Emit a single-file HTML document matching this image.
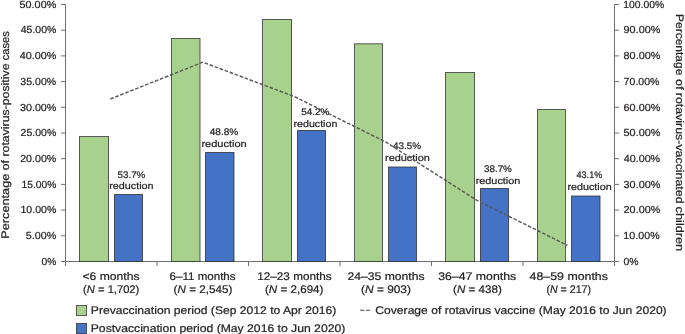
<!DOCTYPE html>
<html><head><meta charset="utf-8"><style>
html,body{margin:0;padding:0;background:#fff;}
body{width:685px;height:334px;overflow:hidden;font-family:"Liberation Sans", sans-serif;}
svg{display:block;will-change:transform;} text{text-rendering:geometricPrecision;stroke:#231f20;stroke-width:0.22px;}
</style></head><body>
<svg width="685" height="334" viewBox="0 0 685 334">
<rect width="685" height="334" fill="#fff"/>
<g stroke="#6e6e6e" stroke-width="1" fill="none">
<line x1="65.5" y1="4.5" x2="65.5" y2="266"/>
<line x1="614.5" y1="4.5" x2="614.5" y2="266"/>
<line x1="61" y1="261.5" x2="619" y2="261.5"/>
<line x1="61" y1="4.50" x2="65.5" y2="4.50"/>
<line x1="614.5" y1="4.50" x2="619" y2="4.50"/>
<line x1="61" y1="30.20" x2="65.5" y2="30.20"/>
<line x1="614.5" y1="30.20" x2="619" y2="30.20"/>
<line x1="61" y1="55.90" x2="65.5" y2="55.90"/>
<line x1="614.5" y1="55.90" x2="619" y2="55.90"/>
<line x1="61" y1="81.60" x2="65.5" y2="81.60"/>
<line x1="614.5" y1="81.60" x2="619" y2="81.60"/>
<line x1="61" y1="107.30" x2="65.5" y2="107.30"/>
<line x1="614.5" y1="107.30" x2="619" y2="107.30"/>
<line x1="61" y1="133.00" x2="65.5" y2="133.00"/>
<line x1="614.5" y1="133.00" x2="619" y2="133.00"/>
<line x1="61" y1="158.70" x2="65.5" y2="158.70"/>
<line x1="614.5" y1="158.70" x2="619" y2="158.70"/>
<line x1="61" y1="184.40" x2="65.5" y2="184.40"/>
<line x1="614.5" y1="184.40" x2="619" y2="184.40"/>
<line x1="61" y1="210.10" x2="65.5" y2="210.10"/>
<line x1="614.5" y1="210.10" x2="619" y2="210.10"/>
<line x1="61" y1="235.80" x2="65.5" y2="235.80"/>
<line x1="614.5" y1="235.80" x2="619" y2="235.80"/>
<line x1="61" y1="261.50" x2="65.5" y2="261.50"/>
<line x1="614.5" y1="261.50" x2="619" y2="261.50"/>
<line x1="157.0" y1="261.5" x2="157.0" y2="266"/>
<line x1="248.5" y1="261.5" x2="248.5" y2="266"/>
<line x1="340.0" y1="261.5" x2="340.0" y2="266"/>
<line x1="431.5" y1="261.5" x2="431.5" y2="266"/>
<line x1="523.0" y1="261.5" x2="523.0" y2="266"/>
</g>
<g stroke="#2a2a2a" stroke-opacity="0.75" stroke-width="1">
<rect x="79.5" y="136.5" width="29" height="125.0" fill="#a9d18e"/>
<rect x="114.5" y="194.5" width="28" height="67.0" fill="#4472c4"/>
<rect x="171.5" y="38.5" width="28.5" height="223.0" fill="#a9d18e"/>
<rect x="205.5" y="152.5" width="28.5" height="109.0" fill="#4472c4"/>
<rect x="262.5" y="19.5" width="29" height="242.0" fill="#a9d18e"/>
<rect x="297.5" y="130.5" width="28" height="131.0" fill="#4472c4"/>
<rect x="354.5" y="43.8" width="28" height="217.7" fill="#a9d18e"/>
<rect x="388.5" y="167.0" width="28" height="94.5" fill="#4472c4"/>
<rect x="445.5" y="72.5" width="29" height="189.0" fill="#a9d18e"/>
<rect x="480.5" y="188.5" width="28" height="73.0" fill="#4472c4"/>
<rect x="537.5" y="109.5" width="28" height="152.0" fill="#a9d18e"/>
<rect x="571.5" y="196.0" width="28.5" height="65.5" fill="#4472c4"/>
</g>
<g fill="#231f20" font-family='"Liberation Sans", sans-serif'>
<text id="red0p" x="131.40" y="177.70" font-size="9.5" text-anchor="middle" textLength="27.92" lengthAdjust="spacingAndGlyphs">53.7%</text>
<text id="red0r" x="131.38" y="189.40" font-size="9.5" text-anchor="middle" textLength="44.28" lengthAdjust="spacingAndGlyphs">reduction</text>
<text id="red1p" x="223.98" y="135.10" font-size="9.5" text-anchor="middle" textLength="28.56" lengthAdjust="spacingAndGlyphs">48.8%</text>
<text id="red1r" x="224.05" y="147.00" font-size="9.5" text-anchor="middle" textLength="45.24" lengthAdjust="spacingAndGlyphs">reduction</text>
<text id="red2p" x="315.35" y="115.00" font-size="9.5" text-anchor="middle" textLength="28.22" lengthAdjust="spacingAndGlyphs">54.2%</text>
<text id="red2r" x="315.43" y="126.60" font-size="9.5" text-anchor="middle" textLength="43.88" lengthAdjust="spacingAndGlyphs">reduction</text>
<text id="red3p" x="407.02" y="149.30" font-size="9.5" text-anchor="middle" textLength="28.06" lengthAdjust="spacingAndGlyphs">43.5%</text>
<text id="red3r" x="407.45" y="160.60" font-size="9.5" text-anchor="middle" textLength="44.83" lengthAdjust="spacingAndGlyphs">reduction</text>
<text id="red4p" x="497.90" y="171.90" font-size="9.5" text-anchor="middle" textLength="27.92" lengthAdjust="spacingAndGlyphs">38.7%</text>
<text id="red4r" x="498.00" y="183.60" font-size="9.5" text-anchor="middle" textLength="44.64" lengthAdjust="spacingAndGlyphs">reduction</text>
<text id="red5p" x="589.38" y="178.20" font-size="9.5" text-anchor="middle" textLength="25.66" lengthAdjust="spacingAndGlyphs">43.1%</text>
<text id="red5r" x="589.60" y="189.80" font-size="9.5" text-anchor="middle" textLength="44.33" lengthAdjust="spacingAndGlyphs">reduction</text>
</g>
<polyline points="110.4,99.0 202.75,62.2 294.25,96.5 385.75,142 477.25,200.6 567.5,245.4" fill="none" stroke="#595959" stroke-width="1.45" stroke-dasharray="3.5 1.84"/>
<g fill="#231f20" font-family='"Liberation Sans", sans-serif' font-size="10.2">
<text id="yl0" x="56.30" y="7.70" font-size="10.2" text-anchor="end" textLength="36.73" lengthAdjust="spacingAndGlyphs">50.00%</text>
<text id="yl1" x="56.35" y="33.40" font-size="10.2" text-anchor="end" textLength="35.60" lengthAdjust="spacingAndGlyphs">45.00%</text>
<text id="yl2" x="56.35" y="59.10" font-size="10.2" text-anchor="end" textLength="36.62" lengthAdjust="spacingAndGlyphs">40.00%</text>
<text id="yl3" x="56.23" y="84.80" font-size="10.2" text-anchor="end" textLength="35.86" lengthAdjust="spacingAndGlyphs">35.00%</text>
<text id="yl4" x="56.43" y="110.50" font-size="10.2" text-anchor="end" textLength="36.47" lengthAdjust="spacingAndGlyphs">30.00%</text>
<text id="yl5" x="56.30" y="136.20" font-size="10.2" text-anchor="end" textLength="35.70" lengthAdjust="spacingAndGlyphs">25.00%</text>
<text id="yl6" x="56.32" y="161.90" font-size="10.2" text-anchor="end" textLength="36.16" lengthAdjust="spacingAndGlyphs">20.00%</text>
<text id="yl7" x="56.27" y="187.60" font-size="10.2" text-anchor="end" textLength="34.73" lengthAdjust="spacingAndGlyphs">15.00%</text>
<text id="yl8" x="56.43" y="213.30" font-size="10.2" text-anchor="end" textLength="35.96" lengthAdjust="spacingAndGlyphs">10.00%</text>
<text id="yl9" x="56.23" y="239.00" font-size="10.2" text-anchor="end" textLength="30.39" lengthAdjust="spacingAndGlyphs">5.00%</text>
<text id="yl10" x="56.40" y="264.70" font-size="10.2" text-anchor="end" textLength="14.83" lengthAdjust="spacingAndGlyphs">0%</text>
<text id="yr0" x="623.33" y="7.70" font-size="10.2" text-anchor="start" textLength="40.88" lengthAdjust="spacingAndGlyphs">100.00%</text>
<text id="yr1" x="623.58" y="33.40" font-size="10.2" text-anchor="start" textLength="36.76" lengthAdjust="spacingAndGlyphs">90.00%</text>
<text id="yr2" x="623.58" y="59.10" font-size="10.2" text-anchor="start" textLength="36.76" lengthAdjust="spacingAndGlyphs">80.00%</text>
<text id="yr3" x="623.63" y="84.80" font-size="10.2" text-anchor="start" textLength="35.85" lengthAdjust="spacingAndGlyphs">70.00%</text>
<text id="yr4" x="623.58" y="110.50" font-size="10.2" text-anchor="start" textLength="36.76" lengthAdjust="spacingAndGlyphs">60.00%</text>
<text id="yr5" x="623.58" y="136.20" font-size="10.2" text-anchor="start" textLength="36.76" lengthAdjust="spacingAndGlyphs">50.00%</text>
<text id="yr6" x="623.70" y="161.90" font-size="10.2" text-anchor="start" textLength="36.51" lengthAdjust="spacingAndGlyphs">40.00%</text>
<text id="yr7" x="623.58" y="187.60" font-size="10.2" text-anchor="start" textLength="36.76" lengthAdjust="spacingAndGlyphs">30.00%</text>
<text id="yr8" x="623.58" y="213.30" font-size="10.2" text-anchor="start" textLength="36.76" lengthAdjust="spacingAndGlyphs">20.00%</text>
<text id="yr9" x="623.38" y="239.00" font-size="10.2" text-anchor="start" textLength="36.36" lengthAdjust="spacingAndGlyphs">10.00%</text>
<text id="yr10" x="623.60" y="264.70" font-size="10.2" text-anchor="start" textLength="15.03" lengthAdjust="spacingAndGlyphs">0%</text>
</g>
<g fill="#231f20" font-family='"Liberation Sans", sans-serif' font-size="11">
<text id="tl0" transform="translate(9,238.75) rotate(-90)" x="0" y="0" textLength="65.06" lengthAdjust="spacingAndGlyphs">Percentage</text>
<text id="tl1" transform="translate(9,170.25) rotate(-90)" x="0" y="0" textLength="10.09" lengthAdjust="spacingAndGlyphs">of</text>
<text id="tl2" transform="translate(9,156.50) rotate(-90)" x="0" y="0" textLength="93.00" lengthAdjust="spacingAndGlyphs">rotavirus-positive</text>
<text id="tl3" transform="translate(9,60.30) rotate(-90)" x="0" y="0" textLength="29.14" lengthAdjust="spacingAndGlyphs">cases</text>
<text id="tr0" transform="translate(676,14.05) rotate(90)" x="0" y="0" textLength="61.26" lengthAdjust="spacingAndGlyphs">Percentage</text>
<text id="tr1" transform="translate(676,79.05) rotate(90)" x="0" y="0" textLength="10.64" lengthAdjust="spacingAndGlyphs">of</text>
<text id="tr2" transform="translate(676,92.85) rotate(90)" x="0" y="0" textLength="110.71" lengthAdjust="spacingAndGlyphs">rotavirus-vaccinated</text>
<text id="tr3" transform="translate(676,206.60) rotate(90)" x="0" y="0" textLength="44.61" lengthAdjust="spacingAndGlyphs">children</text>
</g>
<g fill="#231f20" font-family='"Liberation Sans", sans-serif' font-size="11">
<text id="cat0a" x="111.02" y="279.70" font-size="11" text-anchor="middle" textLength="56.97" lengthAdjust="spacingAndGlyphs">&lt;6 months</text>
<text id="cat0b" x="111.22" y="292.60" font-size="11" text-anchor="middle" textLength="56.18" lengthAdjust="spacingAndGlyphs">(<tspan font-style="italic">N</tspan> = 1,702)</text>
<text id="cat1a" x="202.60" y="279.70" font-size="11" text-anchor="middle" textLength="66.02" lengthAdjust="spacingAndGlyphs">6–11 months</text>
<text id="cat1b" x="202.95" y="292.60" font-size="11" text-anchor="middle" textLength="58.73" lengthAdjust="spacingAndGlyphs">(<tspan font-style="italic">N</tspan> = 2,545)</text>
<text id="cat2a" x="294.45" y="279.70" font-size="11" text-anchor="middle" textLength="74.32" lengthAdjust="spacingAndGlyphs">12–23 months</text>
<text id="cat2b" x="294.22" y="292.60" font-size="11" text-anchor="middle" textLength="58.48" lengthAdjust="spacingAndGlyphs">(<tspan font-style="italic">N</tspan> = 2,694)</text>
<text id="cat3a" x="386.00" y="279.70" font-size="11" text-anchor="middle" textLength="77.11" lengthAdjust="spacingAndGlyphs">24–35 months</text>
<text id="cat3b" x="386.00" y="292.60" font-size="11" text-anchor="middle" textLength="49.83" lengthAdjust="spacingAndGlyphs">(<tspan font-style="italic">N</tspan> = 903)</text>
<text id="cat4a" x="477.18" y="279.70" font-size="11" text-anchor="middle" textLength="77.96" lengthAdjust="spacingAndGlyphs">36–47 months</text>
<text id="cat4b" x="477.43" y="292.60" font-size="11" text-anchor="middle" textLength="48.69" lengthAdjust="spacingAndGlyphs">(<tspan font-style="italic">N</tspan> = 438)</text>
<text id="cat5a" x="568.77" y="279.70" font-size="11" text-anchor="middle" textLength="78.26" lengthAdjust="spacingAndGlyphs">48–59 months</text>
<text id="cat5b" x="568.73" y="292.60" font-size="11" text-anchor="middle" textLength="44.48" lengthAdjust="spacingAndGlyphs">(<tspan font-style="italic">N</tspan> = 217)</text>
</g>
<path d="M360.2 310.3H364.6M366 310.3H370.1" stroke="#4a4a4a" stroke-width="1.1"/>
<rect x="76.5" y="305.5" width="10" height="10" fill="#a9d18e" stroke="#2a2a2a" stroke-opacity="0.75"/>
<rect x="76.5" y="323.5" width="10" height="10" fill="#4472c4" stroke="#2a2a2a" stroke-opacity="0.75"/>
<g fill="#231f20" font-family='"Liberation Sans", sans-serif' font-size="11">
<text id="leg1" x="90.83" y="314.00" font-size="11" text-anchor="start" textLength="245.46" lengthAdjust="spacingAndGlyphs">Prevaccination period (Sep 2012 to Apr 2016)</text>
<text id="leg2" x="90.75" y="331.90" font-size="11" text-anchor="start" textLength="254.51" lengthAdjust="spacingAndGlyphs">Postvaccination period (May 2016 to Jun 2020)</text>
<text id="leg3" x="375.35" y="314.00" font-size="11" text-anchor="start" textLength="291.31" lengthAdjust="spacingAndGlyphs">Coverage of rotavirus vaccine (May 2016 to Jun 2020)</text>
</g>
</svg>
</body></html>
